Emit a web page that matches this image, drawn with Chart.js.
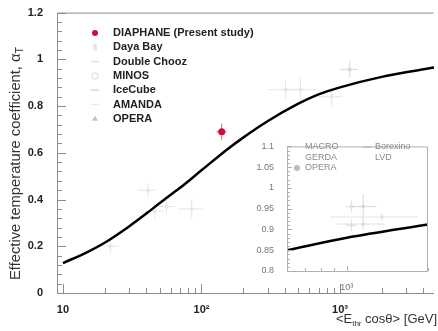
<!DOCTYPE html>
<html>
<head>
<meta charset="utf-8">
<script src="https://cdn.jsdelivr.net/npm/chart.js@4/dist/chart.umd.min.js"></script>
<style>
html, body { margin: 0; padding: 0; background: #fff; }
#wrap { position: relative; width: 438px; height: 331px; }
#main { position: absolute; left: 0; top: 0; }
#inset { position: absolute; left: 250px; top: 136px; }
</style>
</head>
<body>
<div id="wrap">
  <canvas id="main" width="438" height="331"></canvas>
  <canvas id="inset" width="186" height="154"></canvas>
</div>
<script>
// model curve
const curveE = [10, 15, 20, 30, 40, 50, 70, 100, 150, 200, 300, 500, 700, 1000, 2000, 4800];
const curveA = [0.128, 0.175, 0.215, 0.285, 0.34, 0.385, 0.45, 0.525, 0.61, 0.665, 0.735, 0.81, 0.85, 0.88, 0.925, 0.965];

// measurements (E, alpha, errE, errAlpha)
const diaphaneE = [140];
const diaphaneA = [0.69];
const diaphaneErrE = [12];
const diaphaneErrA = [0.035];

const dayaBayE = [22, 41, 56];
const dayaBayA = [0.20, 0.44, 0.37];
const doubleChoozE = [46];
const doubleChoozA = [0.35];
const minosE = [85, 870];
const minosA = [0.36, 0.84];
const iceCubeE = [519];
const iceCubeA = [0.87];
const amandaE = [405];
const amandaA = [0.87];
const operaE = [1175];
const operaA = [0.957];

// inset
const insetCurveE = [600, 1000, 2000];
const insetCurveA = [0.85, 0.88, 0.912];
const macroE = [1040];
const macroA = [0.91];
const gerdaE = [1040];
const gerdaA = [0.955];
const insetOperaE = [1150];
const insetOperaA = [0.955];
const borexinoE = [1350];
const borexinoA = [0.93];
const lvdE = [1150];
const lvdA = [0.913];

const xTickVals = [10, 100, 1000];
const xTickLabels = ['10', '10²', '10³'];

const FONT = '"Liberation Sans", Arial, sans-serif';
const FAINT = '#e6e6e6';

function pts(xs, ys) {
  return xs.map((v, i) => ({ x: v, y: ys[i] }));
}
function relErr(xs, f) {
  return xs.map(v => v * f);
}
const trimNum = v => String(+Number(v).toFixed(2));

const errorBars = {
  id: 'errorBars',
  beforeDatasetsDraw(chart) {
    const { ctx, scales: { x, y } } = chart;
    chart.data.datasets.forEach(ds => {
      if (!ds.errY) return;
      ctx.save();
      ctx.strokeStyle = ds.errColor || ds.borderColor;
      ctx.lineWidth = 1;
      ds.data.forEach((p, j) => {
        const px = x.getPixelForValue(p.x), py = y.getPixelForValue(p.y);
        ctx.beginPath();
        ctx.moveTo(x.getPixelForValue(p.x - ds.errX[j]), py);
        ctx.lineTo(x.getPixelForValue(p.x + ds.errX[j]), py);
        ctx.moveTo(px, y.getPixelForValue(p.y - ds.errY[j]));
        ctx.lineTo(px, y.getPixelForValue(p.y + ds.errY[j]));
        ctx.stroke();
      });
      ctx.restore();
    });
  }
};

// ROOT-like frame with ticks pointing inwards
function frame(o) {
  return {
    id: 'frame',
    beforeDraw(chart) {
      if (!o.fill) return;
      const a = chart.chartArea, ctx = chart.ctx;
      ctx.save();
      ctx.fillStyle = '#fff';
      ctx.fillRect(a.left, a.top, a.right - a.left, a.bottom - a.top);
      ctx.restore();
    },
    afterDraw(chart) {
      const { ctx, chartArea: a, scales: { x, y } } = chart;
      ctx.save();
      ctx.strokeStyle = o.color;
      ctx.lineWidth = 1;
      ctx.beginPath();
      ctx.moveTo(a.left + 0.5, a.bottom + 0.5);
      ctx.lineTo(a.left + 0.5, a.top + 0.5);
      ctx.lineTo(a.right - 0.5, a.top + 0.5);
      if (o.right) ctx.lineTo(a.right - 0.5, a.bottom + 0.5);
      ctx.moveTo(a.left, a.bottom + 0.5);
      ctx.lineTo(a.right, a.bottom + 0.5);
      for (let v = y.min; v <= y.max + 1e-9; v += o.yMinor) {
        const py = Math.round(y.getPixelForValue(v)) + 0.5;
        const major = Math.abs(v / o.yMajor - Math.round(v / o.yMajor)) < 1e-6;
        ctx.moveTo(a.left, py);
        ctx.lineTo(a.left + (major ? o.major : o.minor), py);
      }
      for (let d = 1; d < 100000; d *= 10) {
        for (let m = 1; m < 10; m++) {
          const v = d * m;
          if (v < x.min || v > x.max) continue;
          const px = Math.round(x.getPixelForValue(v)) + 0.5;
          ctx.moveTo(px, a.bottom);
          ctx.lineTo(px, a.bottom - (m === 1 ? o.major : o.minor));
        }
      }
      ctx.stroke();
      ctx.restore();
    }
  };
}

// main chart legend and axis titles
const mainLegend = [
  { label: 'DIAPHANE (Present study)', color: '#c8103e', style: 'dot' },
  { label: 'Daya Bay', color: '#e6e6e6', style: 'box' },
  { label: 'Double Chooz', color: '#e0e0e0', style: 'dash' },
  { label: 'MINOS', color: '#e8e8e8', style: 'ring' },
  { label: 'IceCube', color: '#d6d6d6', style: 'dash' },
  { label: 'AMANDA', color: '#e8e8e8', style: 'dash' },
  { label: 'OPERA', color: '#c4c4c4', style: 'tri' }
];

function marker(ctx, style, x, y, color) {
  ctx.fillStyle = color;
  ctx.strokeStyle = color;
  ctx.lineWidth = 1.5;
  ctx.beginPath();
  if (style === 'dot') { ctx.arc(x, y, 3, 0, Math.PI * 2); ctx.fill(); }
  else if (style === 'box') { ctx.fillRect(x - 2, y - 3, 4, 6); }
  else if (style === 'dash') { ctx.moveTo(x - 4, y); ctx.lineTo(x + 4, y); ctx.stroke(); }
  else if (style === 'ring') { ctx.arc(x, y, 3, 0, Math.PI * 2); ctx.stroke(); }
  else if (style === 'tri') { ctx.moveTo(x, y - 3); ctx.lineTo(x + 3, y + 2); ctx.lineTo(x - 3, y + 2); ctx.fill(); }
}

const mainDecor = {
  id: 'mainDecor',
  afterDraw(chart) {
    const ctx = chart.ctx;
    ctx.save();
    ctx.textBaseline = 'middle';
    mainLegend.forEach((it, i) => {
      const yy = 33 + i * 14.3;
      marker(ctx, it.style, 95, yy, it.color);
      ctx.fillStyle = '#222';
      ctx.font = 'bold 11px ' + FONT;
      ctx.fillText(it.label, 113, yy);
    });
    ctx.restore();

    // y title
    ctx.save();
    ctx.translate(20, 280);
    ctx.rotate(-Math.PI / 2);
    ctx.fillStyle = '#333';
    ctx.textBaseline = 'alphabetic';
    const t1 = 'Effective temperature coefficient, α';
    ctx.font = '14px ' + FONT;
    const w1 = ctx.measureText(t1).width;
    ctx.font = '10px ' + FONT;
    const w2 = ctx.measureText('T').width;
    ctx.scale(233 / (w1 + w2), 1);
    ctx.font = '14px ' + FONT;
    ctx.fillText(t1, 0, 0);
    ctx.font = '10px ' + FONT;
    ctx.fillText('T', w1, 3);
    ctx.restore();

    // x title
    ctx.save();
    ctx.fillStyle = '#333';
    const a = '<E', s = 'thr', b = ' cosθ> [GeV]';
    ctx.font = '13px ' + FONT;
    const wa = ctx.measureText(a).width, wb = ctx.measureText(b).width;
    ctx.font = '8px ' + FONT;
    const ws = ctx.measureText(s).width;
    let x0 = 437 - (wa + ws + wb);
    ctx.font = '13px ' + FONT;
    ctx.fillText(a, x0, 323);
    ctx.font = '8px ' + FONT;
    ctx.fillText(s, x0 + wa, 326);
    ctx.font = '13px ' + FONT;
    ctx.fillText(b, x0 + wa + ws, 323);
    ctx.restore();
  }
};

function faintSet(xs, ys, fx, ey, color) {
  return {
    type: 'scatter', data: pts(xs, ys), showLine: false,
    pointRadius: 2, pointBackgroundColor: color, pointBorderWidth: 0,
    borderColor: color, errColor: color,
    errX: relErr(xs, fx), errY: ys.map(() => ey)
  };
}

new Chart(document.getElementById('main'), {
  type: 'line',
  data: {
    datasets: [
      {
        data: pts(curveE, curveA), borderColor: '#000', borderWidth: 2.5,
        pointRadius: 0, cubicInterpolationMode: 'monotone', fill: false
      },
      faintSet(dayaBayE, dayaBayA, 0.15, 0.03, FAINT),
      faintSet(doubleChoozE, doubleChoozA, 0.15, 0.03, FAINT),
      faintSet(minosE, minosA, 0.2, 0.04, FAINT),
      faintSet(iceCubeE, iceCubeA, 0.3, 0.05, FAINT),
      faintSet(amandaE, amandaA, 0.25, 0.04, FAINT),
      faintSet(operaE, operaA, 0.15, 0.035, '#d8d8d8'),
      {
        type: 'scatter', data: pts(diaphaneE, diaphaneA), showLine: false,
        pointRadius: 3.5, pointBackgroundColor: '#c8103e', pointBorderWidth: 0,
        borderColor: '#c8103e', errColor: '#d96a85',
        errX: diaphaneErrE, errY: diaphaneErrA
      }
    ]
  },
  options: {
    responsive: false, animation: false, devicePixelRatio: 1,
    layout: { padding: { top: 12, right: 0, left: 0, bottom: 0 } },
    plugins: { legend: { display: false }, tooltip: { enabled: false } },
    scales: {
      x: {
        type: 'logarithmic', min: 9.06, max: 4770,
        grid: { display: false }, border: { display: false },
        afterBuildTicks: s => { s.ticks = xTickVals.map(v => ({ value: v })); },
        afterFit: s => { s.height = 38; },
        ticks: {
          autoSkip: false, maxRotation: 0, padding: 2, color: '#222',
          font: { family: FONT, size: 11, weight: 'bold' },
          callback: (v, i) => xTickLabels[i]
        }
      },
      y: {
        min: 0, max: 1.2,
        grid: { display: false }, border: { display: false },
        afterFit: s => { s.width = 57; },
        ticks: {
          stepSize: 0.2, padding: 6, color: '#222',
          font: { family: FONT, size: 11, weight: 'bold' },
          callback: trimNum
        }
      }
    }
  },
  plugins: [errorBars, frame({ color: '#8c8c8c', yMinor: 0.04, yMajor: 0.2, major: 9, minor: 5, right: false }), mainDecor]
});

// inset
const insetLegend = [
  { label: 'MACRO', x: 55, y: 11, style: 'none' },
  { label: 'GERDA', x: 55, y: 22, style: 'none' },
  { label: 'OPERA', x: 55, y: 32, style: 'dot' },
  { label: 'Borexino', x: 125, y: 11, style: 'dash' },
  { label: 'LVD', x: 125, y: 22, style: 'none' }
];

const insetDecor = {
  id: 'insetDecor',
  afterDraw(chart) {
    const ctx = chart.ctx;
    ctx.save();
    ctx.textBaseline = 'middle';
    ctx.font = '9px ' + FONT;
    insetLegend.forEach(it => {
      if (it.style !== 'none') marker(ctx, it.style, it.x - 8, it.y, '#bbb');
      ctx.fillStyle = '#8a8a8a';
      ctx.fillText(it.label, it.x, it.y);
    });
    ctx.restore();
  }
};

new Chart(document.getElementById('inset'), {
  type: 'line',
  data: {
    datasets: [
      {
        data: pts(insetCurveE, insetCurveA), borderColor: '#000', borderWidth: 2.5,
        pointRadius: 0, cubicInterpolationMode: 'monotone', fill: false
      },
      faintSet(macroE, macroA, 0.05, 0.015, '#e0e0e0'),
      faintSet(gerdaE, gerdaA, 0.05, 0.015, '#e0e0e0'),
      faintSet(insetOperaE, insetOperaA, 0.12, 0.03, '#d8d8d8'),
      faintSet(borexinoE, borexinoA, 0.36, 0.01, '#e4e4e4'),
      faintSet(lvdE, lvdA, 0.2, 0.015, '#e0e0e0')
    ]
  },
  options: {
    responsive: false, animation: false, devicePixelRatio: 1,
    layout: { padding: { top: 5, right: 8, left: 0, bottom: 0 } },
    plugins: { legend: { display: false }, tooltip: { enabled: false } },
    scales: {
      x: {
        type: 'logarithmic', min: 600, max: 2000,
        grid: { display: false }, border: { display: false },
        afterBuildTicks: s => { s.ticks = [{ value: 1000 }]; },
        afterFit: s => { s.height = 19; },
        ticks: {
          autoSkip: false, maxRotation: 0, padding: 3, color: '#777',
          font: { family: FONT, size: 9 },
          callback: () => '10³'
        }
      },
      y: {
        min: 0.8, max: 1.1,
        grid: { display: false }, border: { display: false },
        afterFit: s => { s.width = 37; },
        ticks: {
          stepSize: 0.05, padding: 5, color: '#777',
          font: { family: FONT, size: 9 },
          callback: trimNum
        }
      }
    }
  },
  plugins: [errorBars, frame({ color: '#b0b0b0', yMinor: 0.01, yMajor: 0.05, major: 5, minor: 3, right: true, fill: true }), insetDecor]
});
</script>
</body>
</html>
